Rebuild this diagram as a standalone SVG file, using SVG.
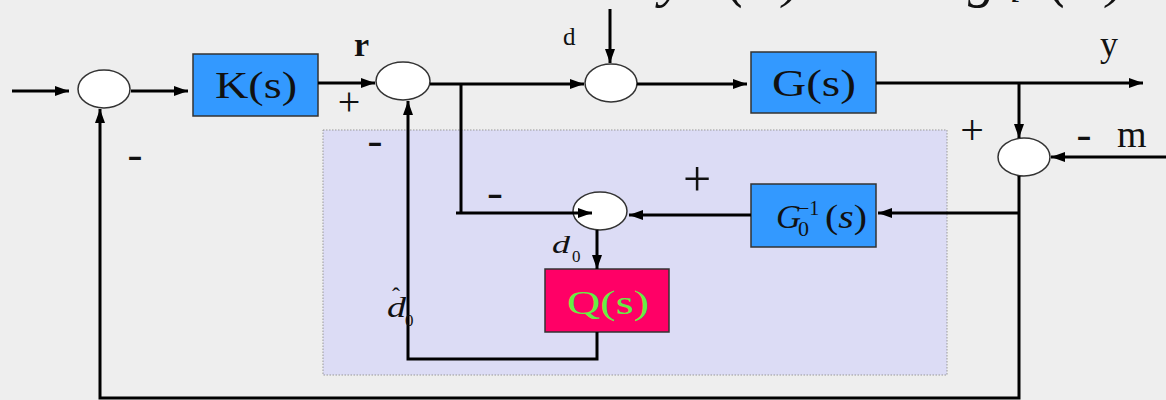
<svg xmlns="http://www.w3.org/2000/svg" width="1166" height="400" viewBox="0 0 1166 400">
<defs>
<marker id="arr" viewBox="0 0 14 10" refX="14" refY="5" markerWidth="14" markerHeight="10" markerUnits="userSpaceOnUse" orient="auto">
<path d="M0,0 L14,5 L0,10 z" fill="#000"/>
</marker>
<style>
.sum{fill:#fff;stroke:#333;stroke-width:1.5}
.blue{fill:#3399ff;stroke:#333;stroke-width:1.5}
.pink{fill:#ff0066;stroke:#333;stroke-width:1.5}
.ln{fill:none;stroke:#000;stroke-width:3}
.arr{marker-end:url(#arr)}
.t{font-family:"Liberation Serif","Times New Roman",serif;fill:#111}
.it{font-style:italic}
.minus{font-family:"Liberation Sans",Arial,sans-serif;font-size:40px;fill:#111;text-anchor:middle}
.plus{font-family:"Liberation Serif",serif;fill:#111;text-anchor:middle}
</style>
</defs>
<rect x="0" y="0" width="1166" height="400" fill="#eeeeee"/>
<text class="t it" font-size="56" y="-4"><tspan x="660">y</tspan><tspan x="728">(</tspan><tspan x="750">t</tspan><tspan x="783">)</tspan><tspan x="835">=</tspan><tspan x="904" font-style="normal">Σ</tspan><tspan x="968">g</tspan><tspan x="1010" font-size="40" dy="6">l</tspan><tspan x="1050" dy="-6">(</tspan><tspan x="1074">t</tspan><tspan x="1107">)</tspan></text>
<rect id="inner" x="323" y="130" width="624" height="245" fill="#dcdcf5" stroke="#999" stroke-width="1" stroke-dasharray="1.5,1.5"/>
<g id="S1"><ellipse class="sum" cx="104" cy="89" rx="26" ry="19"/></g>
<g id="S2"><ellipse class="sum" cx="403" cy="81" rx="27" ry="19"/></g>
<g id="S3"><ellipse class="sum" cx="611" cy="83" rx="26" ry="19"/></g>
<g id="S4"><ellipse class="sum" cx="1024" cy="157" rx="26" ry="19"/></g>
<g id="S5"><ellipse class="sum" cx="600" cy="211" rx="27" ry="19"/></g>
<g id="K"><rect class="blue" x="193" y="54" width="125" height="62"/><text class="t" font-size="37" x="215" y="98" textLength="82" lengthAdjust="spacingAndGlyphs">K(s)</text></g>
<g id="G"><rect class="blue" x="751" y="52" width="125" height="61"/><text class="t" font-size="37" x="772" y="96" textLength="84" lengthAdjust="spacingAndGlyphs">G(s)</text></g>
<g id="G0inv"><rect class="blue" x="751" y="184" width="125" height="63"/>
<text class="t it" font-size="33" x="776" y="228" textLength="25" lengthAdjust="spacingAndGlyphs">G</text>
<text class="t" font-size="22" x="798" y="236">0</text>
<text class="t" font-size="20" x="798" y="215">−1</text>
<text class="t" font-size="33" x="825" y="228" textLength="42" lengthAdjust="spacingAndGlyphs">(<tspan font-style="italic">s</tspan>)</text></g>
<g id="Q"><rect class="pink" x="545" y="269" width="124" height="63"/><text font-family="Liberation Serif,serif" font-size="34" fill="#66ee44" x="567" y="314" textLength="82" lengthAdjust="spacingAndGlyphs">Q(s)</text></g>
<g id="connectors">
<path class="ln arr" d="M12,91 H69"/>
<path class="ln arr" d="M131,91 H188"/>
<path class="ln arr" d="M318,83 H375"/>
<path class="ln arr" d="M430,84 H584"/>
<path class="ln arr" d="M610,9 V63"/>
<path class="ln arr" d="M637,84 H747"/>
<path class="ln arr" d="M876,83 H1143"/>
<path class="ln arr" d="M1019,83 V138"/>
<path class="ln arr" d="M1166,157 H1051"/>
<path class="ln arr" d="M1019,176 V398 H100 V109"/>
<path class="ln arr" d="M1019,213 H878"/>
<path class="ln arr" d="M751,215 H629"/>
<path class="ln" d="M461,84 V214"/>
<path class="ln arr" d="M456,213 H592"/>
<path class="ln arr" d="M597,230 V269"/>
<path class="ln arr" d="M597,332 V359 H408 V101"/>
</g>
<g id="labels">
<text class="t" font-size="34" font-weight="bold" x="354" y="56">r</text>
<text class="t" font-size="25" x="563" y="45">d</text>
<text class="t" font-size="36" x="1100" y="56">y</text>
<text class="t" font-size="38" x="1117" y="147">m</text>
<text class="t it" font-size="26" x="552" y="253" textLength="18" lengthAdjust="spacingAndGlyphs">d</text>
<text class="t" font-size="17" x="572" y="262">0</text>
<text class="t it" font-size="30" x="387" y="317" textLength="19" lengthAdjust="spacingAndGlyphs">d</text>
<text class="t" font-size="24" x="392" y="304">ˆ</text>
<text class="t" font-size="17" x="405" y="326">0</text>
<text class="plus" font-size="40" x="349" y="115">+</text>
<text class="plus" font-size="50" x="697" y="196">+</text>
<text class="plus" font-size="42" x="972" y="144">+</text>
<text class="minus" x="135" y="169" textLength="16" lengthAdjust="spacingAndGlyphs">-</text>
<text class="minus" x="375" y="155" textLength="16" lengthAdjust="spacingAndGlyphs">-</text>
<text class="minus" x="495" y="207" textLength="17" lengthAdjust="spacingAndGlyphs">-</text>
<text class="minus" x="1084" y="149" textLength="16" lengthAdjust="spacingAndGlyphs">-</text>
</g>
</svg>
